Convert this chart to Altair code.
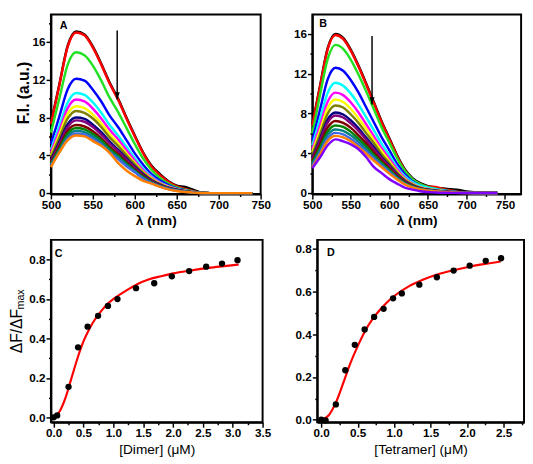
import altair as alt
import pandas as pd

# ---------------- data ----------------
WL = [500, 510, 520, 530, 540, 550, 560, 570, 580, 590, 600, 610, 620, 630, 640,
      650, 660, 670, 680, 690, 700, 720, 740]

A_NAMES = ["black", "red", "green", "blue", "cyan", "magenta", "yellow", "dark yellow",
           "navy", "purple", "wine", "olive", "dark cyan", "royal", "orange"]
B_NAMES = A_NAMES + ["violet"]
COLORS = ["#000000", "#FF0000", "#22E022", "#0000FF", "#00FFFF", "#FF00FF", "#FFFF00",
          "#808000", "#000080", "#800080", "#800000", "#008000", "#008080", "#4169E1",
          "#FF8000", "#8000FF"]

A_black = [7.4, 11.5, 15.6, 17.1, 16.8, 15.5, 13.7, 11.7, 10.0, 8.0, 6.1, 4.3, 2.9, 2.0, 1.25, 0.8, 0.65, 0.35, 0.05, 0, 0, 0, 0]
A_red = [7.3, 11.4, 15.5, 17.0, 16.7, 15.4, 13.6, 11.6, 9.9, 7.9, 6.0, 4.2, 2.8, 1.9, 1.2, 0.7, 0.45, 0.2, 0.03, 0, 0, 0, 0]
A_green = [6.4, 10.0, 13.6, 14.9, 14.6, 13.5, 11.9, 10.1, 8.6, 6.9, 5.2, 3.65, 2.45, 1.6, 1.0, 0.6, 0.35, 0.15, 0.03, 0, 0, 0, 0]
A_blue = [5.2, 8.1, 11.0, 12.1, 11.9, 10.95, 9.7, 8.2, 7.0, 5.6, 4.2, 3.0, 2.0, 1.35, 0.85, 0.5, 0.3, 0.12, 0.02, 0, 0, 0, 0]
A_cyan = [4.6, 7.1, 9.6, 10.6, 10.4, 9.6, 8.5, 7.2, 6.1, 4.9, 3.7, 2.6, 1.75, 1.15, 0.75, 0.45, 0.27, 0.1, 0.02, 0, 0, 0, 0]
A_magenta = [4.3, 6.6, 9.0, 9.9, 9.7, 8.95, 7.9, 6.7, 5.7, 4.55, 3.45, 2.4, 1.65, 1.1, 0.7, 0.42, 0.25, 0.1, 0.02, 0, 0, 0, 0]
A_yellow = [4.0, 6.2, 8.4, 9.2, 9.0, 8.3, 7.4, 6.25, 5.3, 4.2, 3.2, 2.25, 1.55, 1.0, 0.65, 0.4, 0.23, 0.09, 0.02, 0, 0, 0, 0]
A_dyellow = [3.8, 5.85, 7.9, 8.7, 8.5, 7.9, 7.0, 5.9, 5.0, 4.0, 3.05, 2.15, 1.45, 0.95, 0.6, 0.37, 0.22, 0.08, 0.02, 0, 0, 0, 0]
A_navy = [3.5, 5.4, 7.3, 8.0, 7.85, 7.25, 6.45, 5.45, 4.6, 3.7, 2.8, 2.0, 1.35, 0.9, 0.57, 0.35, 0.2, 0.08, 0.01, 0, 0, 0, 0]
A_purple = [3.4, 5.2, 7.0, 7.7, 7.55, 7.0, 6.2, 5.25, 4.45, 3.55, 2.7, 1.9, 1.3, 0.85, 0.55, 0.33, 0.19, 0.07, 0.01, 0, 0, 0, 0]
A_wine = [3.2, 4.9, 6.6, 7.2, 7.05, 6.55, 5.8, 4.9, 4.15, 3.3, 2.5, 1.8, 1.2, 0.8, 0.5, 0.3, 0.18, 0.07, 0.01, 0, 0, 0, 0]
A_olive = [3.1, 4.7, 6.3, 6.9, 6.75, 6.25, 5.6, 4.7, 3.95, 3.15, 2.4, 1.7, 1.15, 0.77, 0.48, 0.29, 0.17, 0.06, 0.01, 0, 0, 0, 0]
A_dcyan = [3.0, 4.5, 6.0, 6.6, 6.45, 6.0, 5.35, 4.5, 3.8, 3.0, 2.3, 1.6, 1.1, 0.73, 0.46, 0.27, 0.16, 0.06, 0.01, 0, 0, 0, 0]
A_royal = [2.9, 4.35, 5.75, 6.3, 6.2, 5.75, 5.15, 4.3, 3.6, 2.85, 2.2, 1.55, 1.05, 0.7, 0.44, 0.26, 0.15, 0.06, 0.01, 0, 0, 0, 0]
A_orange = [2.75, 4.3, 5.6, 6.1, 6.0, 5.5, 5.0, 4.25, 3.2, 2.4, 1.8, 1.3, 1.0, 0.65, 0.4, 0.22, 0.12, 0.05, 0.01, 0, 0, 0, 0]
A_SERIES = [A_black, A_red, A_green, A_blue, A_cyan, A_magenta, A_yellow, A_dyellow,
            A_navy, A_purple, A_wine, A_olive, A_dcyan, A_royal, A_orange]

B_black = [6.9, 10.8, 14.6, 16.0, 15.6, 14.4, 12.8, 11.0, 9.1, 7.2, 5.5, 3.8, 2.4, 1.5, 1.0, 0.7, 0.55, 0.45, 0.38, 0.3, 0.15, 0.05, 0]
B_red = [6.8, 10.7, 14.5, 15.9, 15.5, 14.3, 12.7, 10.9, 9.0, 7.1, 5.4, 3.7, 2.3, 1.4, 0.9, 0.65, 0.6, 0.4, 0.25, 0.12, 0.05, 0, 0]
B_green = [6.0, 9.9, 13.5, 14.9, 14.5, 13.4, 11.9, 10.2, 8.4, 6.6, 5.05, 3.5, 2.25, 1.4, 0.9, 0.6, 0.45, 0.3, 0.18, 0.09, 0.04, 0, 0]
B_blue = [5.3, 8.4, 11.45, 12.6, 12.3, 11.35, 10.1, 8.6, 7.1, 5.6, 4.3, 2.95, 1.9, 1.2, 0.76, 0.5, 0.38, 0.25, 0.15, 0.08, 0.04, 0, 0]
B_cyan = [4.8, 7.45, 10.1, 11.1, 10.8, 10.0, 8.9, 7.6, 6.3, 4.95, 3.8, 2.6, 1.7, 1.1, 0.75, 0.55, 0.4, 0.25, 0.13, 0.07, 0.03, 0, 0]
B_magenta = [4.4, 6.8, 9.2, 10.1, 9.85, 9.1, 8.1, 6.9, 5.7, 4.5, 3.45, 2.4, 1.5, 0.96, 0.6, 0.4, 0.3, 0.2, 0.12, 0.06, 0.03, 0, 0]
B_yellow = [4.1, 6.3, 8.55, 9.4, 9.15, 8.45, 7.5, 6.45, 5.3, 4.2, 3.2, 2.2, 1.4, 0.9, 0.56, 0.38, 0.28, 0.19, 0.11, 0.06, 0.03, 0, 0]
B_dyellow = [3.85, 5.9, 8.0, 8.8, 8.6, 7.9, 7.05, 6.0, 5.0, 3.9, 3.0, 2.07, 1.32, 0.84, 0.53, 0.35, 0.26, 0.18, 0.1, 0.05, 0.03, 0, 0]
B_navy = [3.55, 5.45, 7.4, 8.1, 7.9, 7.3, 6.5, 5.55, 4.6, 3.6, 2.75, 1.9, 1.22, 0.77, 0.49, 0.33, 0.24, 0.16, 0.1, 0.05, 0.02, 0, 0]
B_purple = [3.45, 5.25, 7.1, 7.8, 7.6, 7.0, 6.25, 5.35, 4.4, 3.5, 2.65, 1.85, 1.18, 0.75, 0.47, 0.32, 0.23, 0.16, 0.09, 0.05, 0.02, 0, 0]
B_wine = [3.25, 4.9, 6.6, 7.25, 7.05, 6.55, 5.8, 5.0, 4.1, 3.25, 2.5, 1.72, 1.1, 0.7, 0.44, 0.3, 0.22, 0.15, 0.09, 0.04, 0.02, 0, 0]
B_olive = [3.05, 4.6, 6.2, 6.8, 6.65, 6.15, 5.45, 4.7, 3.85, 3.05, 2.35, 1.62, 1.04, 0.66, 0.42, 0.28, 0.2, 0.14, 0.08, 0.04, 0.02, 0, 0]
B_dcyan = [2.9, 4.35, 5.85, 6.4, 6.25, 5.8, 5.15, 4.4, 3.65, 2.9, 2.2, 1.53, 0.98, 0.62, 0.4, 0.27, 0.19, 0.13, 0.08, 0.04, 0.02, 0, 0]
B_royal = [2.75, 4.1, 5.5, 6.05, 5.9, 5.45, 4.85, 4.2, 3.45, 2.75, 2.1, 1.45, 0.93, 0.59, 0.38, 0.25, 0.18, 0.12, 0.07, 0.04, 0.02, 0, 0]
B_orange = [2.6, 3.9, 5.25, 5.75, 5.6, 5.2, 4.6, 3.95, 3.25, 2.6, 1.95, 1.37, 0.88, 0.56, 0.36, 0.24, 0.17, 0.11, 0.07, 0.03, 0.01, 0, 0]
B_violet = [2.5, 3.6, 4.8, 5.4, 5.2, 4.9, 4.4, 3.6, 2.6, 2.0, 1.4, 0.95, 0.55, 0.35, 0.18, 0.1, 0.06, 0.03, 0.02, 0.01, 0, 0, 0]
B_SERIES = [B_black, B_red, B_green, B_blue, B_cyan, B_magenta, B_yellow, B_dyellow,
            B_navy, B_purple, B_wine, B_olive, B_dcyan, B_royal, B_orange, B_violet]

# titration points and fitted curves
C_X = [0.0, 0.06, 0.25, 0.41, 0.57, 0.745, 0.91, 1.07, 1.38, 1.685, 1.98, 2.27, 2.555, 2.82, 3.08]
C_Y = [0.0, 0.01, 0.155, 0.355, 0.46, 0.515, 0.565, 0.60, 0.655, 0.68, 0.715, 0.742, 0.764, 0.78, 0.797]
C_FIT_X = [0, 0.1, 0.2, 0.3, 0.4, 0.5, 0.6, 0.7, 0.8, 0.9, 1.0, 1.2, 1.4, 1.6, 1.8, 2.0, 2.3, 2.6, 2.9, 3.1]
C_FIT_Y = [0, 0.03, 0.1, 0.2, 0.3, 0.385, 0.45, 0.5, 0.54, 0.575, 0.6, 0.64, 0.675, 0.7, 0.716, 0.73, 0.745, 0.758, 0.768, 0.775]

D_X = [0.0, 0.06, 0.2, 0.33, 0.46, 0.595, 0.725, 0.855, 0.985, 1.105, 1.345, 1.585, 1.815, 2.035, 2.255, 2.465]
D_Y = [0.0, -0.003, 0.072, 0.232, 0.351, 0.423, 0.482, 0.52, 0.569, 0.592, 0.633, 0.668, 0.699, 0.722, 0.745, 0.757]
D_FIT_X = [0, 0.1, 0.2, 0.3, 0.4, 0.5, 0.6, 0.7, 0.8, 0.9, 1.0, 1.2, 1.4, 1.6, 1.8, 2.0, 2.2, 2.46]
D_FIT_Y = [0, 0.02, 0.08, 0.17, 0.265, 0.345, 0.415, 0.47, 0.513, 0.55, 0.58, 0.625, 0.657, 0.682, 0.7, 0.715, 0.728, 0.742]

FONT = "Liberation Sans"
HEAD = "M-0.35,-1L0.35,-1L0,0Z"


def long_df(names, series):
    rows = []
    for n, vals in zip(names, series):
        for w, v in zip(WL, vals):
            rows.append({"series": n, "wl": w, "fi": v})
    return pd.DataFrame(rows)


def tick_cond(test, minor, major):
    return {"condition": {"test": test, "value": minor}, "value": major}


def spectra_panel(names, series, xdom, ydom, w, h, ytitle, letter, lx, ly,
                  arrow_x, arrow_top, arrow_tip, yvals):
    df = long_df(names, series)
    xaxis = alt.Axis(values=list(range(500, 751, 25)), format="d",
                     labelExpr="datum.value % 50 === 0 ? datum.label : ''",
                     tickSize=tick_cond("datum.value % 50 !== 0", 2.5, 5),
                     title="λ (nm)", titleFontWeight="bold", titleFontSize=14,
                     titlePadding=3, labelPadding=1, labelOverlap=False, labelFlush=False)
    if ytitle:
        yaxis = alt.Axis(values=yvals, format="d",
                         labelExpr="datum.value % 4 === 0 ? datum.label : ''",
                         tickSize=tick_cond("datum.value % 4 !== 0", 2.5, 5),
                         title=ytitle, titleFontWeight="bold", titleFontSize=16,
                         titlePadding=1, titleY=80, labelPadding=1,
                         labelOverlap=False, labelFlush=False)
    else:
        yaxis = alt.Axis(values=yvals, format="d",
                         labelExpr="datum.value % 4 === 0 ? datum.label : ''",
                         tickSize=tick_cond("datum.value % 4 !== 0", 2.5, 5),
                         title=None, labelPadding=1, labelOverlap=False, labelFlush=False)
    xs = alt.Scale(domain=xdom, nice=False, zero=False)
    ys = alt.Scale(domain=ydom, nice=False, zero=False)
    lines = alt.Chart(df).mark_line(strokeWidth=2.5, interpolate="monotone").encode(
        x=alt.X("wl:Q", scale=xs, axis=xaxis),
        y=alt.Y("fi:Q", scale=ys, axis=yaxis),
        color=alt.Color("series:N", scale=alt.Scale(domain=B_NAMES, range=COLORS), legend=None),
    )
    adf = pd.DataFrame({"wl": [arrow_x], "fi": [arrow_top], "tip": [arrow_tip]})
    rule = alt.Chart(adf).mark_rule(color="black", strokeWidth=1.5).encode(
        x=alt.X("wl:Q", scale=xs, axis=xaxis), y=alt.Y("fi:Q", scale=ys, axis=yaxis),
        y2="tip:Q")
    head = alt.Chart(adf).mark_point(shape=HEAD, filled=True, size=225, color="black",
                                     opacity=1).encode(
        x=alt.X("wl:Q", scale=xs, axis=xaxis), y=alt.Y("tip:Q", scale=ys, axis=yaxis))
    txt = alt.Chart(pd.DataFrame({"t": [letter]})).mark_text(
        align="left", baseline="top", fontWeight="bold", fontSize=11, font=FONT,
        color="black").encode(text="t:N", x=alt.value(lx), y=alt.value(ly))
    return alt.layer(lines, rule, head, txt).properties(width=w, height=h)


def fit_panel(px, py, fx, fy, xdom, ydom, xmax_tick, w, h, xtitle, letter, lx, ly, ylab):
    xv = [round(i * 0.25, 2) for i in range(int(round(xmax_tick / 0.25)) + 1)]
    yv = [round(i * 0.1, 1) for i in range(9)]
    xaxis = alt.Axis(values=xv, format=".2f",
                     labelExpr="round(datum.value*4) % 2 === 0 ? format(datum.value, '.1f') : ''",
                     tickSize=tick_cond("round(datum.value*4) % 2 !== 0", 2.5, 5),
                     title=xtitle, titleFontWeight="normal", titleFontSize=14,
                     titlePadding=4, labelPadding=1, labelOverlap=False, labelFlush=False)
    yaxis = alt.Axis(values=yv, format=".1f",
                     labelExpr="round(datum.value*10) % 2 === 0 ? format(datum.value, '.1f') : ''",
                     tickSize=tick_cond("round(datum.value*10) % 2 !== 0", 2.5, 5),
                     title=None, labelPadding=1, labelOverlap=False, labelFlush=False)
    xs = alt.Scale(domain=xdom, nice=False, zero=False)
    ys = alt.Scale(domain=ydom, nice=False, zero=False)
    fit = alt.Chart(pd.DataFrame({"x": fx, "y": fy})).mark_line(
        color="#FF0000", strokeWidth=2.2, interpolate="monotone").encode(
        x=alt.X("x:Q", scale=xs, axis=xaxis), y=alt.Y("y:Q", scale=ys, axis=yaxis))
    pts = alt.Chart(pd.DataFrame({"x": px, "y": py})).mark_circle(
        color="black", size=42, opacity=1).encode(
        x=alt.X("x:Q", scale=xs, axis=xaxis), y=alt.Y("y:Q", scale=ys, axis=yaxis))
    txt = alt.Chart(pd.DataFrame({"t": [letter]})).mark_text(
        align="left", baseline="top", fontWeight="bold", fontSize=11, font=FONT,
        color="black").encode(text="t:N", x=alt.value(lx), y=alt.value(ly))
    layers = [fit, pts, txt]
    if ylab:
        main = alt.Chart(pd.DataFrame({"t": ["ΔF/ΔF"]})).mark_text(
            angle=270, align="center", baseline="middle", fontSize=16, font=FONT,
            color="black").encode(text="t:N", x=alt.value(-35), y=alt.value(93.5))
        sub = alt.Chart(pd.DataFrame({"t": ["max"]})).mark_text(
            angle=270, align="center", baseline="middle", fontSize=11, font=FONT,
            color="black").encode(text="t:N", x=alt.value(-31), y=alt.value(61))
        layers += [main, sub]
    return alt.layer(*layers).properties(width=w, height=h)


A = spectra_panel(A_NAMES, A_SERIES, [500, 750], [-0.1, 18.9], 215, 184,
                  "F.I. (a.u.)", "A", 9, 6, 579, 17.2, 9.9, list(range(0, 19, 2)))
B = spectra_panel(B_NAMES, B_SERIES, [500, 771], [-0.1, 17.95], 214, 184,
                  None, "B", 7, 4, 577.5, 15.8, 8.9, list(range(0, 17, 2)))
C = fit_panel(C_X, C_Y, C_FIT_X, C_FIT_Y, [-0.045, 3.5], [-0.025, 0.9], 3.5, 217, 187,
              "[Dimer] (μM)", "C", 4, 9, True)
D = fit_panel(D_X, D_Y, D_FIT_X, D_FIT_Y, [-0.055, 2.78], [-0.012, 0.843], 2.75, 212, 187,
              "[Tetramer] (μM)", "D", 10, 8, False)

row1 = alt.hconcat(A, B, spacing=20)
row2 = alt.hconcat(C, D, spacing=22)
chart = alt.vconcat(row1, row2, spacing=11).properties(
    padding={"left": 0, "top": 0, "right": 0, "bottom": 0}
).configure_view(stroke="black", strokeWidth=2).configure_axis(
    labelFont=FONT, labelFontSize=12, labelFontWeight="bold", labelColor="black",
    titleFont=FONT, titleColor="black", domainColor="black", domainWidth=2,
    tickColor="black", tickWidth=1.5, grid=False, labelOverlap=False,
)

chart.save("out.html", embed_options={"renderer": "svg", "actions": False})
